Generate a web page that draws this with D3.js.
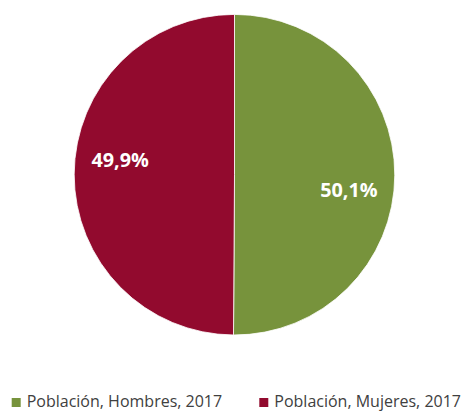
<!DOCTYPE html>
<html>
<head>
<meta charset="utf-8">
<script src="https://cdn.jsdelivr.net/npm/d3@7"></script>
<style>
  html, body { margin: 0; padding: 0; background: #fff; overflow: hidden; }
  svg { display: block; }
</style>
</head>
<body>
<svg id="chart" width="468" height="411"></svg>
<script>
const categories = ["Población, Hombres, 2017", "Población, Mujeres, 2017"];
const values = [50.1, 49.9];
const labels = ["50,1%", "49,9%"];
const colors = ["#77933C", "#920A2E"];

const W = 468, H = 411;
const cx = 234.5, cy = 174.7, R = 160.3;
const svg = d3.select("#chart");

const data = categories.map((c, i) => ({ name: c, value: values[i], label: labels[i], color: colors[i] }));
const pie = d3.pie().sort(null).value(d => d.value);
const arcs = pie(data);
const arc = d3.arc().innerRadius(0).outerRadius(R);

const g = svg.append("g").attr("transform", `translate(${cx},${cy})`);
g.selectAll("path.slice").data(arcs).enter().append("path")
  .attr("class", "slice")
  .attr("d", arc)
  .attr("fill", d => d.data.color)
  .attr("stroke", "#ffffff")
  .attr("stroke-width", 0.8);

// label positions: rotated slightly clockwise from the slice centroid
const shift = 0.13;
const labelArc = d3.arc().innerRadius(R * 0.72).outerRadius(R * 0.72)
  .startAngle(d => d.startAngle + shift).endAngle(d => d.endAngle + shift);
g.selectAll("text.lbl").data(arcs).enter().append("text")
  .attr("class", "lbl")
  .attr("transform", d => `translate(${labelArc.centroid(d)})`)
  .attr("text-anchor", "middle")
  .attr("dy", "0.36em")
  .attr("fill", "#ffffff")
  .attr("font-family", "'Open Sans', sans-serif")
  .attr("font-weight", "bold")
  .attr("font-size", 19.8)
  .text(d => d.data.label);

// legend
const legendX = [11.7, 259.3];
const leg = svg.append("g");
const items = leg.selectAll("g.item").data(data).enter().append("g")
  .attr("class", "item")
  .attr("transform", (d, i) => `translate(${legendX[i]},0)`);
items.append("rect")
  .attr("x", 0).attr("y", 398)
  .attr("width", 9).attr("height", 9)
  .attr("fill", d => d.color);
items.append("text")
  .attr("x", 15).attr("y", 407)
  .attr("fill", "#404040")
  .attr("font-family", "'Open Sans', sans-serif")
  .attr("font-size", 16)
  .text(d => d.name);
</script>
</body>
</html>
